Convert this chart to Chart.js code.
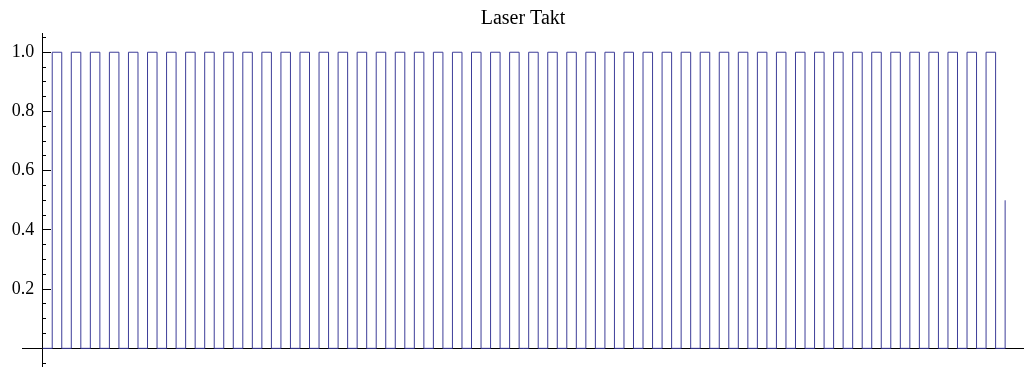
<!DOCTYPE html>
<html>
<head>
<meta charset="utf-8">
<title>Laser Takt</title>
<script src="https://cdn.jsdelivr.net/npm/chart.js@4.4.1/dist/chart.umd.min.js"></script>
<style>
  html, body { margin: 0; padding: 0; background: #ffffff; }
  canvas { display: block; }
</style>
</head>
<body>
<canvas id="takt" width="1024" height="367"></canvas>
<script>
// Clock edges (time in clock periods) and the level the signal takes from each edge on.
const edgeTimes = [
  0, 0.5, 1, 1.5, 2, 2.5, 3, 3.5, 4, 4.5, 5, 5.5, 6, 6.5, 7, 7.5, 8, 8.5, 9, 9.5,
  10, 10.5, 11, 11.5, 12, 12.5, 13, 13.5, 14, 14.5, 15, 15.5, 16, 16.5, 17, 17.5, 18, 18.5, 19, 19.5,
  20, 20.5, 21, 21.5, 22, 22.5, 23, 23.5, 24, 24.5, 25, 25.5, 26, 26.5, 27, 27.5, 28, 28.5, 29, 29.5,
  30, 30.5, 31, 31.5, 32, 32.5, 33, 33.5, 34, 34.5, 35, 35.5, 36, 36.5, 37, 37.5, 38, 38.5, 39, 39.5,
  40, 40.5, 41, 41.5, 42, 42.5, 43, 43.5, 44, 44.5, 45, 45.5, 46, 46.5, 47, 47.5, 48, 48.5, 49, 49.5,
  50, 50.5
];
const levels = [
  0, 1, 0, 1, 0, 1, 0, 1, 0, 1, 0, 1, 0, 1, 0, 1, 0, 1, 0, 1,
  0, 1, 0, 1, 0, 1, 0, 1, 0, 1, 0, 1, 0, 1, 0, 1, 0, 1, 0, 1,
  0, 1, 0, 1, 0, 1, 0, 1, 0, 1, 0, 1, 0, 1, 0, 1, 0, 1, 0, 1,
  0, 1, 0, 1, 0, 1, 0, 1, 0, 1, 0, 1, 0, 1, 0, 1, 0, 1, 0, 1,
  0, 1, 0, 1, 0, 1, 0, 1, 0, 1, 0, 1, 0, 1, 0, 1, 0, 1, 0, 1,
  0, 0.5
];

// Axis ticks
const yMajorTicks = [0.2, 0.4, 0.6, 0.8, 1.0];
const yTickLabels = ['0.2', '0.4', '0.6', '0.8', '1.0'];
const yMinorTicks = [-0.05, 0.05, 0.1, 0.15, 0.25, 0.3, 0.35, 0.45, 0.5, 0.55,
                     0.65, 0.7, 0.75, 0.85, 0.9, 0.95, 1.05];

// Plot ranges
const xRange = [-1.086, 51.49];
const yRange = [-0.063, 1.065];

const points = edgeTimes.map((t, i) => ({ x: t, y: levels[i] }));
const serif = "'Liberation Serif', 'Times New Roman', serif";
const noPadding = s => { s.paddingTop = 0; s.paddingBottom = 0; s.paddingLeft = 0; s.paddingRight = 0; };
const setTicks = values => s => { s.ticks = values.map(v => ({ value: v })); };

new Chart(document.getElementById('takt'), {
  type: 'line',
  data: {
    datasets: [{
      data: points,
      stepped: 'before',
      borderColor: '#3d3d99',
      borderWidth: 1,
      pointRadius: 0,
      fill: false,
      xAxisID: 'x',
      yAxisID: 'y'
    }]
  },
  options: {
    responsive: false,
    animation: false,
    devicePixelRatio: 1,
    layout: { padding: { left: 22, right: 0, top: 0, bottom: 0 } },
    plugins: {
      legend: { display: false },
      tooltip: { enabled: false },
      title: {
        display: true,
        text: 'Laser Takt',
        color: '#000000',
        font: { family: serif, size: 20, weight: 'normal', lineHeight: 1.2 },
        padding: { top: 7, bottom: 2 }
      }
    },
    scales: {
      x: {
        type: 'linear',
        min: xRange[0], max: xRange[1],
        position: { y: 0 },
        ticks: { display: false },
        grid: { display: true, drawOnChartArea: false, drawTicks: false },
        border: { display: true, color: '#000000', width: 1 },
        afterFit: noPadding
      },
      // axis line with the short minor ticks
      y: {
        type: 'linear',
        min: yRange[0], max: yRange[1],
        position: { x: 0 },
        afterBuildTicks: setTicks(yMinorTicks),
        ticks: { display: false },
        grid: { drawOnChartArea: false, drawTicks: true, tickLength: -4, color: '#000000' },
        border: { display: true, color: '#000000', width: 1 },
        afterFit: noPadding
      },
      // longer major ticks
      yMajor: {
        type: 'linear',
        min: yRange[0], max: yRange[1],
        position: { x: 0 },
        afterBuildTicks: setTicks(yMajorTicks),
        ticks: { display: false },
        grid: { drawOnChartArea: false, drawTicks: true, tickLength: -8, color: '#000000' },
        border: { display: false },
        afterFit: noPadding
      },
      // tick labels, right-aligned a little left of the axis
      yLabels: {
        type: 'linear',
        min: yRange[0], max: yRange[1],
        position: { x: -0.44 },
        afterBuildTicks: setTicks(yMajorTicks),
        ticks: {
          display: true,
          padding: 0,
          color: '#000000',
          font: { family: serif, size: 18 },
          callback: (v, i) => yTickLabels[i]
        },
        grid: { display: false, drawOnChartArea: false, drawTicks: false },
        border: { display: false },
        afterFit: noPadding
      }
    }
  }
});
</script>
</body>
</html>
